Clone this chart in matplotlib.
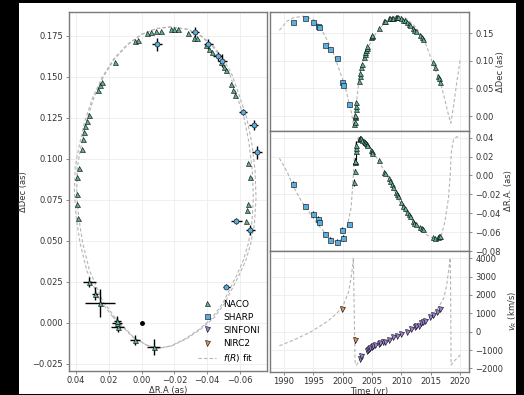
import numpy as np
import matplotlib.pyplot as plt
from matplotlib.patches import Rectangle

# --- Data ---
# NACO astrometry near pericentre (with visible error bars)
naco_peri_t = [2001.90, 2002.00, 2002.10, 2002.12, 2002.14, 2002.20, 2002.25, 2002.32]
naco_peri_ra = [-0.0073, 0.0042, 0.0145, 0.0150, 0.0148, 0.0255, 0.0285, 0.0320]
naco_peri_dec = [-0.0146, -0.0104, -0.0024, 0.0000, 0.0012, 0.0122, 0.0177, 0.0250]
naco_peri_ra_err = [0.004, 0.003, 0.004, 0.003, 0.002, 0.009, 0.002, 0.004]
naco_peri_dec_err = [0.005, 0.003, 0.003, 0.003, 0.003, 0.0085, 0.004, 0.003]

# NACO astrometry, rest of the orbit
naco_t = [2002.75, 2002.85, 2002.95, 2003.10, 2003.20, 2003.55, 2003.70, 2003.85,
          2004.00, 2004.10, 2004.20, 2004.80, 2004.95, 2005.05, 2006.10, 2007.00,
          2007.20, 2007.90, 2008.10, 2008.30, 2008.50, 2009.00, 2009.20, 2009.40,
          2010.00, 2010.30, 2010.60, 2011.00, 2011.20, 2011.50, 2012.00, 2012.20,
          2012.40, 2013.20, 2013.50, 2013.70, 2015.30, 2015.70, 2016.30, 2016.40,
          2016.60]
naco_ra = [0.0390, 0.0392, 0.0394, 0.0394, 0.0380, 0.0365, 0.0357, 0.0350,
           0.0345, 0.0335, 0.0322, 0.0267, 0.0255, 0.0242, 0.0164, 0.0040,
           0.0024, -0.0030, -0.0060, -0.0090, -0.0120, -0.0180, -0.0200, -0.0220,
           -0.0280, -0.0320, -0.0340, -0.0390, -0.0410, -0.0430, -0.0485, -0.0500,
           -0.0515, -0.0545, -0.0560, -0.0570, -0.0650, -0.0660, -0.0650, -0.0645,
           -0.0636]
naco_dec = [0.0640, 0.0726, 0.0785, 0.0890, 0.0945, 0.1060, 0.1120, 0.1165,
            0.1200, 0.1230, 0.1270, 0.1420, 0.1450, 0.1470, 0.1590, 0.1720,
            0.1726, 0.1770, 0.1775, 0.1778, 0.1780, 0.1790, 0.1790, 0.1790,
            0.1770, 0.1740, 0.1735, 0.1695, 0.1670, 0.1650, 0.1590, 0.1560,
            0.1540, 0.1460, 0.1420, 0.1390, 0.0976, 0.0890, 0.0726, 0.0690,
            0.0622]

# SHARP astrometry
sharp_t = [1991.5, 1993.6, 1994.9, 1995.7, 1995.9, 1997.0, 1997.8, 1999.0, 1999.9, 2000.1, 2001.0]
sharp_ra = [-0.0093, -0.0325, -0.0408, -0.0463, -0.0493, -0.0620, -0.0683, -0.0702, -0.0578, -0.0664, -0.0517]
sharp_dec = [0.1700, 0.1775, 0.1700, 0.1625, 0.1600, 0.1287, 0.1205, 0.1040, 0.0622, 0.0565, 0.0222]
sharp_ra_err = [0.003, 0.0025, 0.003, 0.003, 0.003, 0.0025, 0.003, 0.003, 0.0035, 0.003, 0.002]
sharp_dec_err = [0.004, 0.003, 0.003, 0.003, 0.004, 0.002, 0.003, 0.004, 0.002, 0.003, 0.0015]

# SINFONI radial velocities
sinfoni_t = [2002.95, 2003.15, 2004.10, 2004.30, 2004.50, 2004.70, 2004.90, 2005.20,
             2005.50, 2006.10, 2006.40, 2006.90, 2007.20, 2007.80, 2008.60, 2009.20,
             2010.00, 2010.90, 2011.70, 2012.30, 2012.50, 2012.90, 2013.40, 2013.70,
             2014.00, 2014.90, 2015.40, 2016.00, 2016.60]
sinfoni_vr = [-1500, -1300, -1060, -1000, -950, -910, -860, -800,
              -750, -690, -640, -590, -550, -460, -290, -220,
              -130, -30, 150, 270, 290, 330, 450, 520,
              580, 800, 900, 1080, 1250]

# NIRC2 radial velocities
nirc2_t = [1999.95, 2002.00]
nirc2_vr = [1220, -460]
nirc2_vr_err = [100, 180]

# f(R) fit on the sky (two passes)
fit_ra_a = [0.0176, 0.0255, 0.0335, 0.0376, 0.0400, 0.0410, 0.0405, 0.0385,
            0.0350, 0.0300, 0.0240, 0.0170, 0.0085, 0.0000, -0.0090, -0.0180,
            -0.0280, -0.0360, -0.0430, -0.0490, -0.0540, -0.0580, -0.0625, -0.0655,
            -0.0675, -0.0682, -0.0672, -0.0650, -0.0620, -0.0580, -0.0540, -0.0495,
            -0.0430, -0.0350, -0.0270, -0.0180, -0.0100, -0.0030, 0.0055, 0.0110,
            0.0176]
fit_dec_a = [0.0037, 0.0140, 0.0320, 0.0490, 0.0650, 0.0800, 0.0950, 0.1060,
             0.1220, 0.1370, 0.1500, 0.1610, 0.1700, 0.1760, 0.1795, 0.1805,
             0.1790, 0.1750, 0.1690, 0.1610, 0.1510, 0.1390, 0.1250, 0.1100,
             0.0930, 0.0760, 0.0600, 0.0480, 0.0380, 0.0290, 0.0210, 0.0120,
             0.0030, -0.0040, -0.0095, -0.0140, -0.0155, -0.0134, -0.0085, -0.0030,
             0.0037]
fit_ra_b = [0.0160, 0.0238, 0.0318, 0.0360, 0.0385, 0.0396, 0.0392, 0.0373,
            0.0340, 0.0292, 0.0234, 0.0165, 0.0082, -0.0002, -0.0091, -0.0181,
            -0.0282, -0.0364, -0.0437, -0.0500, -0.0553, -0.0595, -0.0641, -0.0672,
            -0.0692, -0.0698, -0.0688, -0.0665, -0.0635, -0.0594, -0.0553, -0.0507,
            -0.0440, -0.0358, -0.0276, -0.0184, -0.0102, -0.0032, 0.0047, 0.0098,
            0.0160]
fit_dec_b = [0.0030, 0.0135, 0.0320, 0.0490, 0.0650, 0.0800, 0.0950, 0.1060,
             0.1220, 0.1370, 0.1500, 0.1610, 0.1700, 0.1760, 0.1795, 0.1805,
             0.1790, 0.1750, 0.1690, 0.1610, 0.1510, 0.1390, 0.1250, 0.1100,
             0.0930, 0.0760, 0.0600, 0.0480, 0.0380, 0.0290, 0.0210, 0.0120,
             0.0030, -0.0040, -0.0095, -0.0140, -0.0155, -0.0136, -0.0090, -0.0035,
             0.0030]

# f(R) fit vs time
fit_dec_t = [1989.2, 1990.5, 1991.6, 1993.3, 1995.0, 1996.1, 1997.3, 1998.4, 1999.5, 2000.4,
             2000.95, 2001.5, 2001.8, 2002.1, 2002.5, 2002.95, 2003.5, 2004.4, 2005.5, 2006.6,
             2007.8, 2009.2, 2010.6, 2012.0, 2013.2, 2014.3, 2015.4, 2016.6, 2017.4, 2018.0,
             2018.4, 2018.85, 2019.4, 2020.0]
fit_dec = [0.155, 0.1715, 0.1776, 0.1805, 0.1745, 0.162, 0.138, 0.114, 0.0805, 0.053,
           0.029, 0.005, -0.0145, 0.005, 0.041, 0.078, 0.102, 0.126, 0.147, 0.162,
           0.1745, 0.1805, 0.1776, 0.1655, 0.150, 0.126, 0.0927, 0.0624, 0.029, 0.002,
           -0.013, 0.017, 0.0595, 0.102]

fit_ra_t = [1989.2, 1990.5, 1991.6, 1993.0, 1994.4, 1995.8, 1997.3, 1998.7, 1999.3, 2000.1,
            2000.8, 2001.4, 2001.7, 2001.95, 2002.2, 2002.65, 2003.2, 2004.1, 2005.2, 2006.3,
            2007.5, 2008.6, 2009.7, 2010.9, 2012.0, 2013.2, 2014.3, 2015.4, 2016.0, 2016.8,
            2017.4, 2018.0, 2018.3, 2018.5, 2018.85, 2019.4, 2020.0]
fit_ra = [0.0182, 0.004, -0.012, -0.0278, -0.040, -0.0525, -0.063, -0.070, -0.0708, -0.065,
          -0.0525, -0.0348, -0.010, 0.018, 0.034, 0.040, 0.0394, 0.034, 0.025, 0.0128,
          0.0005, -0.0136, -0.0278, -0.040, -0.049, -0.0578, -0.063, -0.0666, -0.0673, -0.063,
          -0.049, -0.024, 0.0005, 0.025, 0.0375, 0.041, 0.0394]

fit_vr_t = [1989.2, 1991.6, 1994.4, 1997.3, 1999.0, 2000.1, 2001.0, 2001.4, 2001.7, 2001.8,
            2001.85, 2002.1, 2002.35, 2002.95, 2004.1, 2005.8, 2008.6, 2010.3, 2012.6, 2014.3,
            2016.0, 2017.2, 2017.7, 2018.0, 2018.3, 2018.35, 2018.45, 2018.85, 2020.0]
fit_vr = [-770, -460, -40, 540, 1000, 1450, 2180, 2910, 3630, 4030,
          3000, -1780, -1820, -1450, -1060, -730, -280, -40, 360, 630,
          1180, 1820, 2540, 3270, 4030, 3000, -1820, -1640, -1280]

# --- Style ---
c_naco = '#5fae91'
c_sharp = '#5aaee0'
c_sinf = '#9b7fcf'
c_nirc = '#e0915a'
c_fit = '#b5b5b5'
c_spine = '#7a7a7a'
fs = 6
ms = 3.6

W, H = 524, 395
fig = plt.figure(figsize=(W / 100, H / 100), dpi=100)
fig.patch.set_facecolor('black')
fig.add_artist(Rectangle((19 / W, 1 / H), (516 - 19) / W, (392 - 1) / H,
                         transform=fig.transFigure, facecolor='white',
                         edgecolor='none', zorder=-10))

ax = fig.add_axes([69 / W, 24 / H, 198 / W, 359 / H])
ax_dec = fig.add_axes([270 / W, 264 / H, 199 / W, 119 / H])
ax_ra = fig.add_axes([270 / W, 144 / H, 199 / W, 120 / H])
ax_vr = fig.add_axes([270 / W, 23 / H, 199 / W, 121 / H])


def style(a):
    for s in a.spines.values():
        s.set_color(c_spine)
        s.set_linewidth(1.0)
    a.grid(True, color='#ececec', linewidth=0.6)
    a.set_axisbelow(True)
    a.tick_params(labelsize=fs, colors='#333333', length=2.5, width=0.6, pad=2)
    a.tick_params(axis='x', length=2, pad=1.5)
    a.tick_params(color=c_spine)


mk = dict(markeredgecolor='black', markeredgewidth=0.4, linestyle='none')
fit_kw = dict(color=c_fit, linestyle='--', linewidth=0.8, dashes=(3, 2), zorder=1)
lab_kw = dict(fontsize=fs, color='#333333')

# --- Left panel: sky plane ---
style(ax)
ax.plot(fit_ra_a, fit_dec_a, **fit_kw)
ax.plot(fit_ra_b, fit_dec_b, **fit_kw)
ax.errorbar(naco_peri_ra, naco_peri_dec, xerr=naco_peri_ra_err, yerr=naco_peri_dec_err,
            fmt='none', ecolor='black', elinewidth=1.0, zorder=2)
ax.errorbar(sharp_ra, sharp_dec, xerr=sharp_ra_err, yerr=sharp_dec_err,
            fmt='none', ecolor='black', elinewidth=1.0, zorder=2)
ax.plot(naco_ra, naco_dec, marker='^', markersize=ms, color=c_naco, zorder=3, **mk)
ax.plot(naco_peri_ra, naco_peri_dec, marker='^', markersize=ms, color=c_naco, zorder=3, **mk)
ax.plot(sharp_ra, sharp_dec, marker='o', markersize=ms, color=c_sharp, zorder=3, **mk)
ax.plot([0.0], [0.0], marker='o', markersize=2.5, color='black', linestyle='none', zorder=3)
ax.set_xlim(0.0443, -0.0765)
ax.set_ylim(-0.0293, 0.1896)
ax.set_xticks([0.04, 0.02, 0.0, -0.02, -0.04, -0.06])
ax.set_yticks([-0.025, 0.0, 0.025, 0.05, 0.075, 0.1, 0.125, 0.15, 0.175])
ax.set_xlabel('ΔR.A (as)', labelpad=0.5, **lab_kw)
ax.set_ylabel('ΔDec (as)', labelpad=3, **lab_kw)

# --- Right panels: vs time ---
for a in (ax_dec, ax_ra, ax_vr):
    style(a)
    a.yaxis.tick_right()
    a.yaxis.set_label_position('right')
    a.set_xlim(1987.6, 2021.5)
    a.set_xticks([1990, 1995, 2000, 2005, 2010, 2015, 2020])
for a in (ax_dec, ax_ra):
    a.tick_params(labelbottom=False, bottom=False)

naco_all_t = naco_peri_t + naco_t

ax_dec.plot(fit_dec_t, fit_dec, **fit_kw)
ax_dec.plot(naco_all_t, naco_peri_dec + naco_dec, marker='^', markersize=ms, color=c_naco, zorder=3, **mk)
ax_dec.plot(sharp_t, sharp_dec, marker='s', markersize=ms, color=c_sharp, zorder=3, **mk)
ax_dec.set_ylim(-0.027, 0.188)
ax_dec.set_yticks([0.0, 0.05, 0.1, 0.15])
ax_dec.set_ylabel('ΔDec (as)', labelpad=2, **lab_kw)

ax_ra.plot(fit_ra_t, fit_ra, **fit_kw)
ax_ra.errorbar(naco_peri_t, naco_peri_ra, yerr=naco_peri_ra_err, fmt='none',
               ecolor='black', elinewidth=0.8, zorder=2)
ax_ra.errorbar(sharp_t, sharp_ra, yerr=sharp_ra_err, fmt='none',
               ecolor='black', elinewidth=0.8, zorder=2)
ax_ra.plot(naco_all_t, naco_peri_ra + naco_ra, marker='^', markersize=ms, color=c_naco, zorder=3, **mk)
ax_ra.plot(sharp_t, sharp_ra, marker='s', markersize=ms, color=c_sharp, zorder=3, **mk)
ax_ra.set_ylim(-0.08, 0.047)
ax_ra.set_yticks([-0.08, -0.06, -0.04, -0.02, 0.0, 0.02, 0.04])
ax_ra.set_ylabel('ΔR.A. (as)', labelpad=2, **lab_kw)

ax_vr.plot(fit_vr_t, fit_vr, **fit_kw)
ax_vr.errorbar(nirc2_t, nirc2_vr, yerr=nirc2_vr_err, fmt='none',
               ecolor='black', elinewidth=0.8, zorder=2)
h_sinf, = ax_vr.plot(sinfoni_t, sinfoni_vr, marker='v', markersize=ms, color=c_sinf, zorder=3, **mk)
h_nirc, = ax_vr.plot(nirc2_t, nirc2_vr, marker='v', markersize=ms, color=c_nirc, zorder=3, **mk)
ax_vr.set_ylim(-2200, 4400)
ax_vr.set_yticks([-2000, -1000, 0, 1000, 2000, 3000, 4000])
ax_vr.set_ylabel('$v_R$ (km/s)', labelpad=2, **lab_kw)
ax_vr.set_xlabel('Time (yr)', labelpad=0.5, **lab_kw)

# --- Legend ---
h_naco, = ax.plot([], [], marker='^', markersize=ms, color=c_naco, **mk)
h_sharp, = ax.plot([], [], marker='s', markersize=ms, color=c_sharp, **mk)
h_fit, = ax.plot([], [], **fit_kw)
ax.legend([h_naco, h_sharp, h_sinf, h_nirc, h_fit],
          ['NACO', 'SHARP', 'SINFONI', 'NIRC2', '$f(R)$ fit'],
          loc='lower right', fontsize=fs + 0.5, frameon=False, handlelength=2.0,
          labelspacing=0.45, borderaxespad=0.4)

fig.savefig('out.png', dpi=100, facecolor=fig.get_facecolor())
